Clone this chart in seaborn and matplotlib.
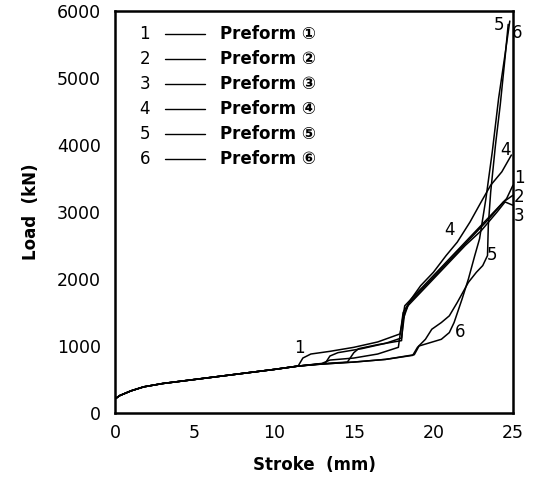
import matplotlib
matplotlib.use("Agg")
import matplotlib.pyplot as plt
import seaborn as sns
import pandas as pd

# shared early part of all six load-stroke curves
base_stroke = [0.0, 0.3, 1.0, 1.8, 3.0, 5.0, 7.0, 9.0, 10.0, 11.5]
base_load = [210, 260, 330, 390, 440, 500, 560, 620, 650, 700]

# tails of each preform curve after they separate
tail_stroke_1 = [11.8, 12.3, 13.5, 15.0, 16.5, 17.9, 18.0, 18.2, 18.6, 19.2, 20.0, 21.0, 22.0, 23.0, 24.0, 24.6, 25.0]
tail_load_1 = [820, 880, 920, 980, 1060, 1180, 1300, 1600, 1700, 1850, 2050, 2300, 2550, 2800, 3050, 3200, 3400]

tail_stroke_2 = [13.2, 13.5, 14.0, 15.5, 17.0, 18.0, 18.2, 18.5, 19.5, 20.5, 21.5, 22.5, 23.5, 24.4, 25.0]
tail_load_2 = [740, 850, 900, 960, 1040, 1120, 1500, 1650, 1900, 2150, 2400, 2650, 2900, 3150, 3250]

tail_stroke_3 = [13.0, 14.6, 15.0, 15.3, 16.5, 18.0, 18.1, 18.4, 19.0, 20.0, 21.0, 22.0, 23.0, 24.0, 24.5, 25.0]
tail_load_3 = [735, 760, 900, 960, 1020, 1080, 1400, 1600, 1750, 2000, 2250, 2500, 2720, 3000, 3150, 3100]

tail_stroke_4 = [13.0, 13.5, 15.0, 16.5, 17.8, 18.1, 18.6, 19.2, 20.0, 20.8, 21.5, 22.3, 23.0, 23.6, 24.3, 24.9]
tail_load_4 = [740, 790, 820, 880, 980, 1500, 1700, 1900, 2100, 2350, 2550, 2850, 3150, 3400, 3600, 3850]

tail_stroke_5 = [13.0, 15.0, 17.0, 18.7, 19.0, 19.5, 19.9, 20.5, 21.0, 21.5, 22.2, 22.7, 23.1, 23.4, 23.45, 23.6, 23.9, 24.2, 24.5, 24.7]
tail_load_5 = [730, 760, 800, 860, 980, 1100, 1250, 1350, 1450, 1650, 1950, 2100, 2200, 2350, 2800, 3300, 4000, 4600, 5300, 5800]

tail_stroke_6 = [13.0, 15.0, 17.0, 18.8, 19.1, 19.8, 20.5, 21.0, 21.3, 21.8, 22.2, 22.6, 22.9, 23.3, 23.7, 24.1, 24.5, 24.8]
tail_load_6 = [730, 760, 800, 870, 1000, 1050, 1100, 1200, 1350, 1700, 2000, 2350, 2600, 3200, 3900, 4700, 5350, 5850]

tail_strokes = [tail_stroke_1, tail_stroke_2, tail_stroke_3, tail_stroke_4, tail_stroke_5, tail_stroke_6]
tail_loads = [tail_load_1, tail_load_2, tail_load_3, tail_load_4, tail_load_5, tail_load_6]

preform_ids = ["1", "2", "3", "4", "5", "6"]
circled = ["\u2460", "\u2461", "\u2462", "\u2463", "\u2464", "\u2465"]

# curve number labels placed on the plot
label_text = ["1", "4", "5", "6", "5", "6", "1", "2", "3", "4"]
label_x = [11.6, 21.0, 23.7, 21.7, 24.1, 25.25, 25.4, 25.4, 25.4, 24.5]
label_y = [970, 2730, 2358, 1209, 5790, 5670, 3507, 3224, 2940, 3925]

rows = []
for pid, xs, ys in zip(preform_ids, tail_strokes, tail_loads):
    for x, y in zip(base_stroke + xs, base_load + ys):
        rows.append({"Stroke": x, "Load": y, "Preform": pid})
df = pd.DataFrame(rows)

sns.set_style("white")
plt.rcParams["font.family"] = ["DejaVu Sans", "Noto Sans CJK JP"]
plt.rcParams["text.color"] = "black"
plt.rcParams["axes.labelcolor"] = "black"
plt.rcParams["xtick.color"] = "black"
plt.rcParams["ytick.color"] = "black"

fig = plt.figure(figsize=(5.38, 4.91), dpi=100)
ax = fig.add_axes([0.2138, 0.1589, 0.7397, 0.8187])

for pid in preform_ids:
    sub = df[df["Preform"] == pid]
    sns.lineplot(data=sub, x="Stroke", y="Load", sort=False, estimator=None,
                 color="black", linewidth=1.1, ax=ax)

ax.set_xlim(0, 25)
ax.set_ylim(0, 6000)
ax.set_xticks([0, 5, 10, 15, 20, 25])
ax.set_yticks([0, 1000, 2000, 3000, 4000, 5000, 6000])
ax.tick_params(direction="in", length=6, width=1.2, labelsize=12.5)
ax.tick_params(axis="x", pad=8)
ax.tick_params(axis="y", pad=10)
for sp in ax.spines.values():
    sp.set_color("black")
    sp.set_linewidth(1.8)

ax.set_xlabel("Stroke  (mm)", fontsize=12, fontweight="bold", labelpad=10)
ax.set_ylabel("Load  (kN)", fontsize=12, fontweight="bold", labelpad=12)

for t, x, y in zip(label_text, label_x, label_y):
    ax.text(x, y, t, fontsize=12, ha="center", va="center", clip_on=False)

# hand-made legend as in the original figure
for i, (pid, c) in enumerate(zip(preform_ids, circled)):
    yy = 0.944 - i * 0.0622
    ax.text(0.075, yy, pid, transform=ax.transAxes, fontsize=12, ha="center", va="center")
    ax.plot([0.125, 0.225], [yy, yy], transform=ax.transAxes, color="black", lw=1.0)
    ax.text(0.265, yy, "Preform " + c, transform=ax.transAxes, fontsize=12,
            fontweight="bold", ha="left", va="center")

fig.savefig("out.png", dpi=100)
